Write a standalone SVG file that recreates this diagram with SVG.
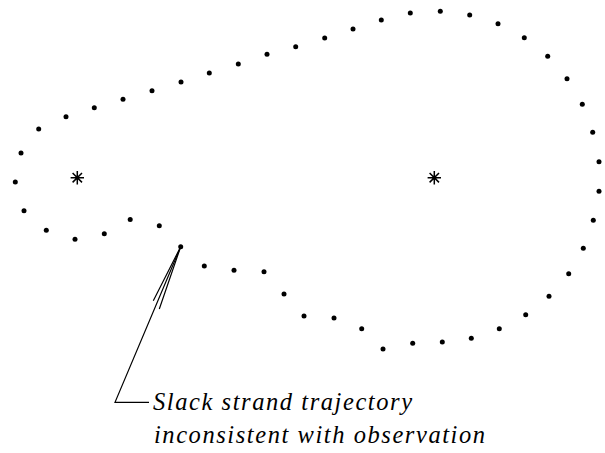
<svg xmlns="http://www.w3.org/2000/svg" width="605" height="453" viewBox="0 0 605 453">
<style>
.dot{fill:#000}
.ast{stroke:#000;stroke-width:1.5;fill:none}
.ln{stroke:#000;stroke-width:1.2;fill:none}
.lbl{font-family:"Liberation Serif","Times New Roman",serif;font-style:italic;font-size:24.5px;fill:#000}
</style>
<rect width="605" height="453" fill="#fff"/>
<g id="trajectory">
<circle class="dot" r="2.5" cx="24" cy="210.7"/>
<circle class="dot" r="2.5" cx="15.3" cy="182"/>
<circle class="dot" r="2.5" cx="21" cy="153"/>
<circle class="dot" r="2.5" cx="38.7" cy="129"/>
<circle class="dot" r="2.5" cx="66" cy="116.7"/>
<circle class="dot" r="2.5" cx="94.3" cy="107.7"/>
<circle class="dot" r="2.5" cx="123" cy="99.3"/>
<circle class="dot" r="2.5" cx="152" cy="90.7"/>
<circle class="dot" r="2.5" cx="181" cy="82"/>
<circle class="dot" r="2.5" cx="209.3" cy="73"/>
<circle class="dot" r="2.5" cx="238.3" cy="64"/>
<circle class="dot" r="2.5" cx="267" cy="54.3"/>
<circle class="dot" r="2.5" cx="295.7" cy="46.7"/>
<circle class="dot" r="2.5" cx="324.7" cy="38"/>
<circle class="dot" r="2.5" cx="353" cy="29"/>
<circle class="dot" r="2.5" cx="381.3" cy="20"/>
<circle class="dot" r="2.5" cx="410.3" cy="13"/>
<circle class="dot" r="2.5" cx="440.3" cy="11.3"/>
<circle class="dot" r="2.5" cx="469.7" cy="15"/>
<circle class="dot" r="2.5" cx="498" cy="23.7"/>
<circle class="dot" r="2.5" cx="524.3" cy="37.7"/>
<circle class="dot" r="2.5" cx="547.7" cy="56.3"/>
<circle class="dot" r="2.5" cx="567" cy="78.7"/>
<circle class="dot" r="2.5" cx="582.3" cy="104.3"/>
<circle class="dot" r="2.5" cx="592.7" cy="132.3"/>
<circle class="dot" r="2.5" cx="599" cy="161.7"/>
<circle class="dot" r="2.5" cx="599" cy="191.3"/>
<circle class="dot" r="2.5" cx="593.3" cy="220.3"/>
<circle class="dot" r="2.5" cx="583.3" cy="248.3"/>
<circle class="dot" r="2.5" cx="568.7" cy="273.7"/>
<circle class="dot" r="2.5" cx="549" cy="296.3"/>
<circle class="dot" r="2.5" cx="525.7" cy="314.7"/>
<circle class="dot" r="2.5" cx="499.3" cy="328.7"/>
<circle class="dot" r="2.5" cx="471.3" cy="338.3"/>
<circle class="dot" r="2.5" cx="442.3" cy="342"/>
<circle class="dot" r="2.5" cx="412.7" cy="343.3"/>
<circle class="dot" r="2.5" cx="383" cy="349"/>
<circle class="dot" r="2.5" cx="361.7" cy="328.7"/>
<circle class="dot" r="2.5" cx="334" cy="318"/>
<circle class="dot" r="2.5" cx="304" cy="316"/>
<circle class="dot" r="2.5" cx="284" cy="294"/>
<circle class="dot" r="2.5" cx="264" cy="271.7"/>
<circle class="dot" r="2.5" cx="234" cy="270.3"/>
<circle class="dot" r="2.5" cx="204.3" cy="266"/>
<circle class="dot" r="2.5" cx="180.7" cy="246.7"/>
<circle class="dot" r="2.5" cx="159.3" cy="225.8"/>
<circle class="dot" r="2.5" cx="130.2" cy="219.5"/>
<circle class="dot" r="2.5" cx="104.3" cy="233.7"/>
<circle class="dot" r="2.5" cx="75" cy="239.3"/>
<circle class="dot" r="2.5" cx="46.3" cy="230.3"/>
</g>
<g id="star-left">
<path class="ast" d="M77.3,171V184.4M70.6,177.7H84M72.6,173L82,182.4M72.6,182.4L82,173"/>
</g>
<g id="star-right">
<path class="ast" d="M434.3,171V184.4M427.6,177.7H441M429.6,173L439,182.4M429.6,182.4L439,173"/>
</g>
<g id="connectors">
<path class="ln" d="M180.7,246.7L115,402.3H149"/>
<path class="ln" d="M180.7,246.7L153.3,300.7M180.7,246.7L159.3,309"/>
</g>
<g id="label">
<text class="lbl" x="153" y="410" textLength="259">Slack strand trajectory</text>
<text class="lbl" x="154" y="443" textLength="331">inconsistent with observation</text>
</g>
</svg>
